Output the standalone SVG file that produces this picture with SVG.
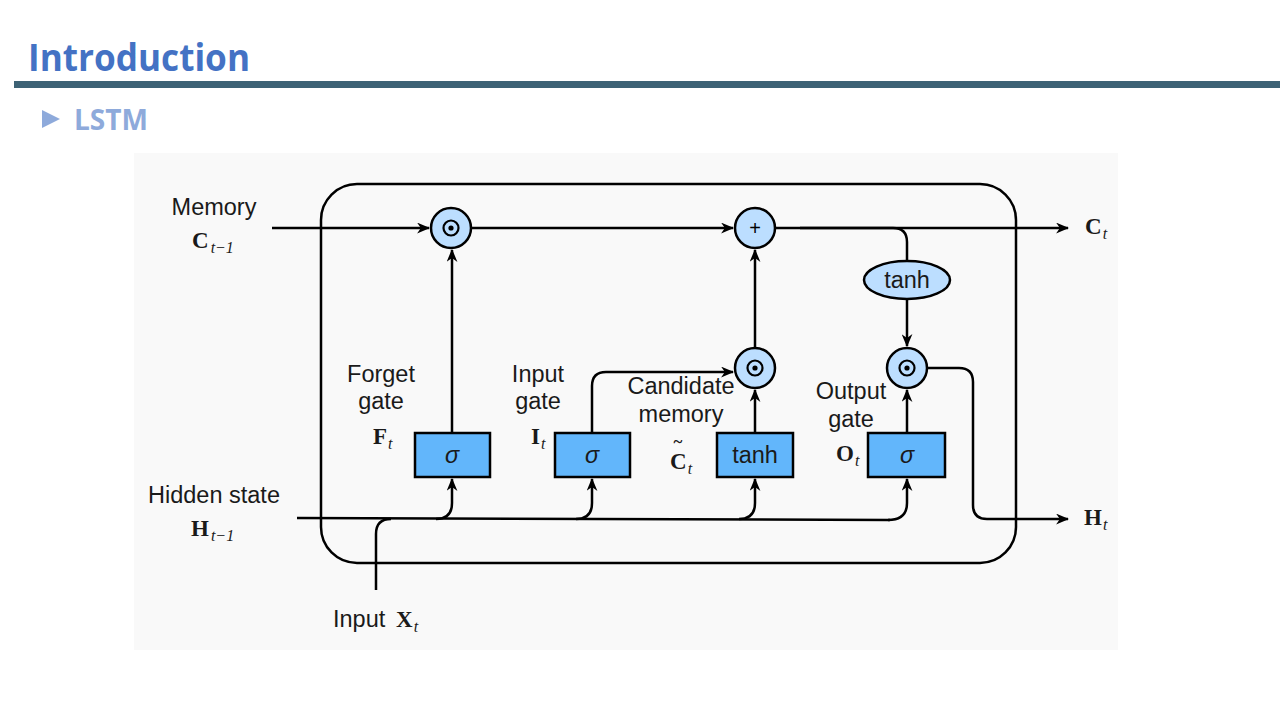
<svg xmlns="http://www.w3.org/2000/svg" width="1280" height="720" viewBox="0 0 1280 720">
<defs>
<marker id="arr" viewBox="0 0 12 10" refX="11" refY="5" markerWidth="13" markerHeight="11" markerUnits="userSpaceOnUse" orient="auto">
<path d="M0,0 L12,5 L0,10 L3.5,5 Z" fill="#000"/>
</marker>
</defs>
<style>
.t{font-family:"Liberation Sans",Arial,sans-serif;font-size:23.5px;fill:#1a1a1a}
.m{font-family:"Liberation Serif","Times New Roman",serif;font-weight:bold;font-size:23px;fill:#1a1a1a}
.s{font-family:"Liberation Serif","Times New Roman",serif;font-style:italic;font-weight:normal;font-size:16px}
.c{fill:none;stroke:#000;stroke-width:2.5}
.ca{fill:none;stroke:#000;stroke-width:2.5;marker-end:url(#arr)}
.circ{fill:#bcdeff;stroke:#000;stroke-width:2.5}
.box{fill:#62b6fb;stroke:#000;stroke-width:2.5}
</style>
<rect width="1280" height="720" fill="#fff"/>
<text x="28" y="71" font-family="'Open Sans','Liberation Sans',sans-serif" font-weight="bold" font-size="38" fill="#4472c4" textLength="222" lengthAdjust="spacingAndGlyphs">Introduction</text>
<rect x="14" y="81" width="1266" height="7" fill="#3d6275"/>
<path d="M42,110 L60,119 L42,128 Z" fill="#8eaadb"/>
<text x="74" y="130" font-family="'Open Sans','Liberation Sans',sans-serif" font-weight="bold" font-size="28" fill="#8eaadb" textLength="74" lengthAdjust="spacingAndGlyphs">LSTM</text>
<rect x="134" y="153" width="984" height="497" fill="#f9f9f9"/>
<g id="cell"><rect x="321" y="184" width="695" height="379" rx="36" class="c"/></g>
<g id="connectors">
<path class="ca" d="M272,228 L429,228"/>
<path class="ca" d="M471,228 L733,228"/>
<path class="ca" d="M775,228 L1068,228"/>
<path class="c" d="M800,228 L893,228 Q907,228 907,242 L907,261"/>
<path class="ca" d="M907,299 L907,346"/>
<path class="ca" d="M452,433 L452,250"/>
<path class="ca" d="M592,433 L592,386 Q592,372 606,372 L733,372"/>
<path class="ca" d="M755,433 L755,390"/>
<path class="ca" d="M755,348 L755,250"/>
<path class="ca" d="M907,433 L907,390"/>
<path class="ca" d="M927,368 L959,368 Q973,368 973,382 L973,505 Q973,519 987,519 L1068,519"/>
<path class="c" d="M297,518 L890,520"/>
<path class="c" d="M376,590 L376,534 Q376,519 391,519"/>
<path class="ca" d="M436,519 Q452,519 452,503 L452,479"/>
<path class="ca" d="M576,519 Q592,519 592,503 L592,479"/>
<path class="ca" d="M739,519 Q755,519 755,503 L755,479"/>
<path class="ca" d="M888,520 Q907,520 907,503 L907,479"/>
</g>
<g id="forget-mul"><circle cx="451" cy="228" r="20" class="circ"/><circle cx="451" cy="228" r="7.5" fill="none" stroke="#000" stroke-width="2.2"/><circle cx="451" cy="228" r="2.6" fill="#000"/></g>
<g id="add"><circle cx="755" cy="228" r="20" class="circ"/><text x="755" y="235" text-anchor="middle" font-family="'Liberation Sans',sans-serif" font-size="20" fill="#000">+</text></g>
<g id="tanh-ell"><ellipse cx="907" cy="280" rx="43" ry="19" class="circ"/><text x="907" y="288" text-anchor="middle" class="t">tanh</text></g>
<g id="input-mul"><circle cx="755" cy="368" r="20" class="circ"/><circle cx="755" cy="368" r="7.5" fill="none" stroke="#000" stroke-width="2.2"/><circle cx="755" cy="368" r="2.6" fill="#000"/></g>
<g id="output-mul"><circle cx="907" cy="368" r="20" class="circ"/><circle cx="907" cy="368" r="7.5" fill="none" stroke="#000" stroke-width="2.2"/><circle cx="907" cy="368" r="2.6" fill="#000"/></g>
<g id="forget-gate"><rect x="415" y="433" width="75" height="44" class="box"/><text x="452" y="463" text-anchor="middle" class="t" font-style="italic">σ</text></g>
<g id="input-gate"><rect x="555" y="433" width="75" height="44" class="box"/><text x="592" y="463" text-anchor="middle" class="t" font-style="italic">σ</text></g>
<g id="candidate"><rect x="717" y="433" width="76" height="44" class="box"/><text x="755" y="463" text-anchor="middle" class="t">tanh</text></g>
<g id="output-gate"><rect x="868" y="433" width="77" height="44" class="box"/><text x="907" y="463" text-anchor="middle" class="t" font-style="italic">σ</text></g>
<g id="labels">
<text x="214" y="215" text-anchor="middle" class="t">Memory</text>
<text x="192" y="248" class="m">C<tspan class="s" dx="2" dy="5">t−1</tspan></text>
<text x="214" y="503" text-anchor="middle" class="t">Hidden state</text>
<text x="191" y="536" class="m">H<tspan class="s" dx="2" dy="5">t−1</tspan></text>
<text x="333" y="627" class="t">Input</text>
<text x="396" y="627" class="m">X<tspan class="s" dx="1" dy="5">t</tspan></text>
<text x="1085" y="234" class="m">C<tspan class="s" dx="1" dy="5">t</tspan></text>
<text x="1084" y="525" class="m">H<tspan class="s" dx="1" dy="5">t</tspan></text>
<text x="381" y="382" text-anchor="middle" class="t">Forget</text>
<text x="381" y="409" text-anchor="middle" class="t">gate</text>
<text x="373" y="444" class="m">F<tspan class="s" dx="1" dy="5">t</tspan></text>
<text x="538" y="382" text-anchor="middle" class="t">Input</text>
<text x="538" y="409" text-anchor="middle" class="t">gate</text>
<text x="531" y="444" class="m">I<tspan class="s" dx="1" dy="5">t</tspan></text>
<text x="681" y="394" text-anchor="middle" class="t">Candidate</text>
<text x="681" y="422" text-anchor="middle" class="t">memory</text>
<text x="670" y="469" class="m">C<tspan class="s" dx="1" dy="5">t</tspan></text>
<text x="678" y="447" text-anchor="middle" font-family="'Liberation Serif',serif" font-weight="bold" font-size="17" fill="#1a1a1a">~</text>
<text x="851" y="399" text-anchor="middle" class="t">Output</text>
<text x="851" y="427" text-anchor="middle" class="t">gate</text>
<text x="836" y="461" class="m">O<tspan class="s" dx="1" dy="5">t</tspan></text>
</g>
</svg>
